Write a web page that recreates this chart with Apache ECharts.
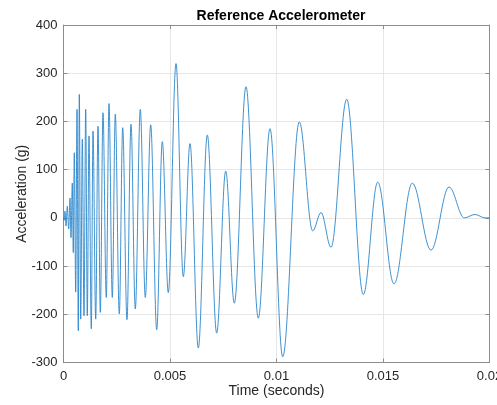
<!DOCTYPE html>
<html>
<head>
<meta charset="utf-8">
<script src="https://cdn.jsdelivr.net/npm/echarts@6/dist/echarts.min.js"></script>
<style>
  html, body { margin: 0; padding: 0; background: #fff; }
  #main { width: 497px; height: 405px; }
</style>
</head>
<body>
<div id="main"></div>
<script>
// peaks / troughs (time in ms, acceleration in g)
var timeMs = [
  0, 0.033, 0.070, 0.117, 0.178, 0.244, 0.305, 0.352, 0.413, 0.460,
  0.507, 0.573, 0.634, 0.695, 0.742, 0.808, 0.883, 0.962, 1.042, 1.117,
  1.197, 1.305, 1.385, 1.512, 1.620, 1.728, 1.854, 2.009, 2.136, 2.291,
  2.432, 2.620, 2.779, 2.981, 3.169, 3.371, 3.606, 3.840, 4.094, 4.376,
  4.638, 4.920, 5.282, 5.624, 5.939, 6.329, 6.751, 7.192, 7.615, 8.019,
  8.568, 9.146, 9.695, 10.291, 11.070, 11.700, 12.089, 12.559, 13.296, 14.075,
  14.751, 15.516, 16.376, 17.254, 18.099, 18.817, 19.319, 19.789, 20.0
];
var accel = [
  0, -5, 14, -17, 24, -23, 41, -41, 72, -72,
  135, -154, 225, -234, 256, -210, 163, -203, 225, -203,
  170, -230, 180, -210, 190, -196, 218, -165, 237, -165,
  215, -199, 187, -211, 194, -189, 225, -165, 193, -232,
  158, -155, 320, -122, 154, -270, 172, -239, 97, -177,
  272, -208, 185, -288, 199, -27, 11, -61, 246, -159,
  74, -137, 72, -67, 64, 0, 7, 0, 0
];
var xTicks = [0, 0.005, 0.01, 0.015, 0.02];
var yTicks = [-300, -200, -100, 0, 100, 200, 300, 400];

var points = timeMs.map(function (t, i) { return [t / 1000, accel[i]]; });

var font = '"Liberation Sans", Arial, Helvetica, sans-serif';
var frame = '#8c8c8c';
var grid = '#e6e6e6';
var lineColor = '#2a86cc';

var myChart = echarts.init(document.getElementById('main'));

myChart.setOption({
  backgroundColor: '#fff',
  animation: false,
  title: {
    text: 'Reference Accelerometer',
    left: 276, top: 4, textAlign: 'center',
    textStyle: { fontFamily: font, fontSize: 14, fontWeight: 'bold', color: '#000' }
  },
  grid: { left: 63.5, right: 7.5, top: 25, bottom: 42.5, outerBoundsMode: 'none', containLabel: false },
  xAxis: [{
    type: 'value', min: xTicks[0], max: xTicks[xTicks.length - 1], interval: 0.005,
    name: 'Time (seconds)', nameLocation: 'middle', nameGap: 22, nameMoveOverlap: false,
    nameTextStyle: { fontFamily: font, fontSize: 14, color: '#262626' },
    axisLine: { show: true, onZero: false, lineStyle: { color: frame, width: 1 } },
    axisTick: { show: true, inside: true, length: 4, lineStyle: { color: frame } },
    axisLabel: { fontFamily: font, fontSize: 13, color: '#262626', margin: 7, hideOverlap: false,
      formatter: function (v) { return String(+v.toFixed(3)); } },
    splitLine: { show: true, lineStyle: { color: grid, width: 1 } }
  }, {
    type: 'value', position: 'top', min: xTicks[0], max: xTicks[xTicks.length - 1], interval: 0.005,
    axisLine: { show: true, onZero: false, lineStyle: { color: frame, width: 1 } },
    axisTick: { show: true, inside: true, length: 4, lineStyle: { color: frame } },
    axisLabel: { show: false },
    splitLine: { show: false }
  }],
  yAxis: [{
    type: 'value', min: yTicks[0], max: yTicks[yTicks.length - 1], interval: 100,
    name: 'Acceleration (g)', nameLocation: 'middle', nameGap: 34, nameRotate: 90, nameMoveOverlap: false,
    nameTextStyle: { fontFamily: font, fontSize: 14, color: '#262626' },
    axisLine: { show: true, onZero: false, lineStyle: { color: frame, width: 1 } },
    axisTick: { show: true, inside: true, length: 4, lineStyle: { color: frame } },
    axisLabel: { fontFamily: font, fontSize: 13, color: '#262626', margin: 6 },
    splitLine: { show: true, lineStyle: { color: grid, width: 1 } }
  }, {
    type: 'value', position: 'right', min: yTicks[0], max: yTicks[yTicks.length - 1], interval: 100,
    axisLine: { show: true, onZero: false, lineStyle: { color: frame, width: 1 } },
    axisTick: { show: true, inside: true, length: 4, lineStyle: { color: frame } },
    axisLabel: { show: false },
    splitLine: { show: false }
  }],
  series: [{
    name: 'Acceleration',
    type: 'line',
    data: points,
    showSymbol: false,
    smooth: 0.36,
    smoothMonotone: 'x',
    lineStyle: { color: lineColor, width: 0.9 },
    itemStyle: { color: lineColor }
  }]
});
</script>
</body>
</html>
